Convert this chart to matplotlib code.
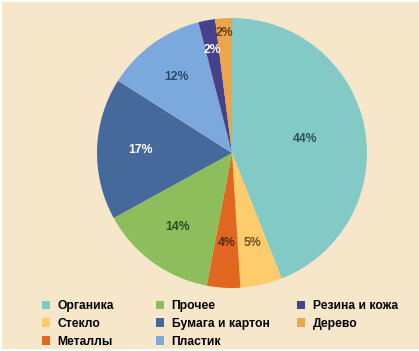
import matplotlib
matplotlib.use("Agg")
import matplotlib.pyplot as plt
from matplotlib.patches import Rectangle, Patch
import numpy as np

categories = ["Органика", "Стекло", "Металлы", "Прочее", "Бумага и картон",
              "Пластик", "Резина и кожа", "Дерево"]
values = [44, 5, 4, 14, 17, 12, 2, 2]

colors = ["#83C9C6", "#FECC6C", "#E1661F", "#8DBE5B", "#45699A",
          "#7BA8DD", "#47408A", "#EBA64D"]
label_colors = ["#2C5655", "#6A5322", "#5A2A0C", "#2E4A1E", "#FFFFFF",
                "#2A4A70", "#FFFFFF", "#6A4012"]
label_dist = [0.55, 0.68, 0.67, 0.68, 0.68, 0.70, 0.78, 0.89]

W, H = 419, 351
fig = plt.figure(figsize=(W / 100, H / 100), dpi=100, facecolor="white")
fig.patches.append(Rectangle((2 / W, 2 / H), 1 - 2 / W, 1 - 4 / H,
                             transform=fig.transFigure, facecolor="#F6E7CB",
                             edgecolor="none", zorder=-10))

cx, cy, r = 232, 351 - 153, 135
ax = fig.add_axes([(cx - r) / W, (cy - r) / H, 2 * r / W, 2 * r / H])

wedges, _ = ax.pie(values, colors=colors, startangle=90, counterclock=False,
                   radius=1, wedgeprops=dict(linewidth=0))
ax.set_xlim(-1, 1)
ax.set_ylim(-1, 1)
ax.set_aspect("equal")
ax.axis("off")

for w, v, lc, d in zip(wedges, values, label_colors, label_dist):
    ang = np.deg2rad((w.theta1 + w.theta2) / 2)
    ax.text(d * np.cos(ang), d * np.sin(ang), f"{v}%", ha="center", va="center",
            fontsize=8.8, fontweight="bold", color=lc, family="Liberation Sans")

handles = [Patch(facecolor=c, edgecolor="none") for c in colors]
col_groups = [(0, 3, 42), (3, 6, 156), (6, 8, 297)]
for a, b, xpx in col_groups:
    leg = fig.legend(handles[a:b], categories[a:b], ncol=1, loc="upper left",
                     bbox_to_anchor=(xpx / W, 1 - 300 / H), frameon=False,
                     prop=dict(family="Liberation Sans", weight="bold", size=8.7),
                     handlelength=0.7, handleheight=0.7, handletextpad=0.6,
                     labelspacing=0.48, borderaxespad=0, borderpad=0)

fig.savefig("out.png", dpi=100, facecolor=fig.get_facecolor())
